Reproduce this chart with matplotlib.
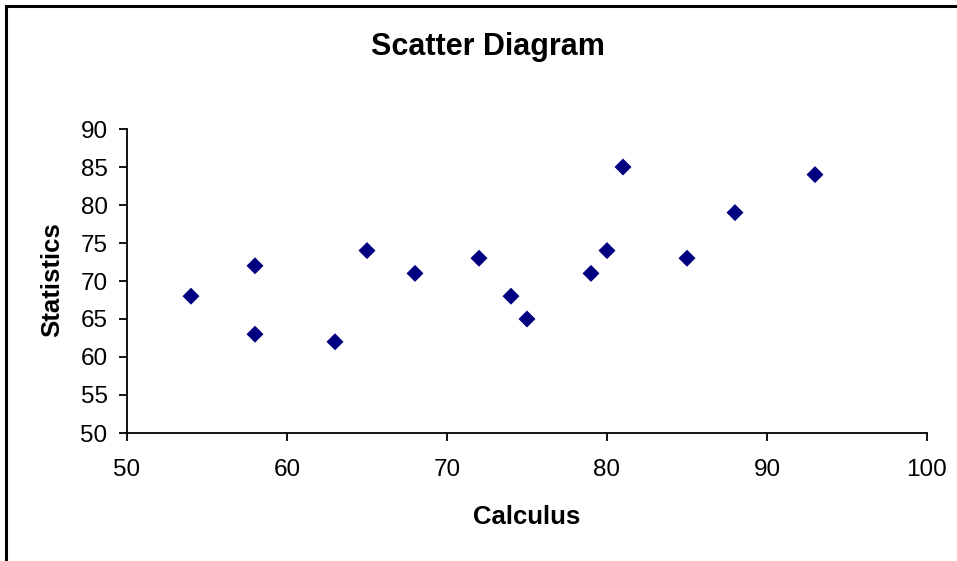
import matplotlib
matplotlib.use("Agg")
import matplotlib.pyplot as plt
from matplotlib.lines import Line2D

# data
calculus = [54, 58, 58, 63, 65, 68, 72, 74, 75, 79, 80, 81, 85, 88, 93]
statistics = [68, 72, 63, 62, 74, 71, 73, 68, 65, 71, 74, 85, 73, 79, 84]
x_ticks = [50, 60, 70, 80, 90, 100]
y_ticks = [50, 55, 60, 65, 70, 75, 80, 85, 90]

plt.rcParams['font.family'] = ['Liberation Sans', 'DejaVu Sans']

W, H = 957, 561
fig = plt.figure(figsize=(W / 100, H / 100), dpi=100)
ax = fig.add_axes([127 / W, 1 - 433 / H, 800 / W, 304 / H])

ax.scatter(calculus, statistics, marker='D', s=75, color='#000080',
           edgecolors='none', zorder=3)

ax.set_xlim(50, 100)
ax.set_ylim(50, 90)
ax.set_xticks(x_ticks)
ax.set_yticks(y_ticks)
ax.tick_params(direction='out', length=6, width=1.3, labelsize=17.5,
               colors='black')
ax.tick_params(axis='y', pad=8)
ax.tick_params(axis='x', pad=13)
for side in ['top', 'right']:
    ax.spines[side].set_visible(False)
for side in ['left', 'bottom']:
    ax.spines[side].set_linewidth(1.3)

fig.text(488 / W, 1 - 47 / H, 'Scatter Diagram', ha='center', va='center',
         fontsize=22, fontweight='bold')
fig.text(527 / W, 1 - 517 / H, 'Calculus', ha='center', va='center',
         fontsize=18.5, fontweight='bold')
fig.text(52 / W, 1 - 280 / H, 'Statistics', ha='center', va='center',
         fontsize=18.5, fontweight='bold', rotation=90)

# chart border (left and top only visible, cropped elsewhere)
fig.add_artist(Line2D([6 / W, 6 / W], [0, 1 - 6 / H], transform=fig.transFigure,
                      color='black', linewidth=2.2))
fig.add_artist(Line2D([6 / W, 1], [1 - 6 / H, 1 - 6 / H], transform=fig.transFigure,
                      color='black', linewidth=2.2))

fig.savefig('out.png', dpi=100)
